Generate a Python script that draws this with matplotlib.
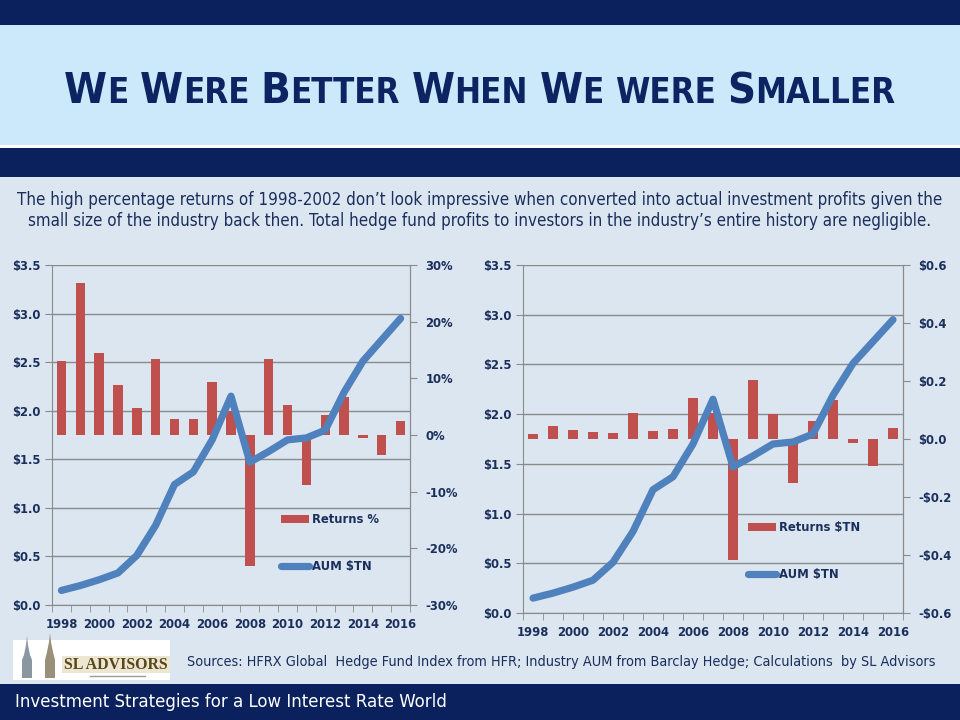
import numpy as np
import matplotlib
matplotlib.use("Agg")
import matplotlib.pyplot as plt
from matplotlib.patches import Rectangle, Polygon
from matplotlib.lines import Line2D
from matplotlib.ticker import FuncFormatter, MultipleLocator

# ---------------- data ----------------
years = list(range(1998, 2017))
year_labels = [str(y) if y % 2 == 0 else "" for y in years]
aum_tn = [0.15, 0.20, 0.26, 0.33, 0.51, 0.82, 1.24, 1.37, 1.70, 2.15,
          1.47, 1.58, 1.70, 1.72, 1.80, 2.19, 2.51, 2.73, 2.95]
returns_pct = [13.1, 26.8, 14.5, 8.8, 4.8, 13.4, 2.8, 2.8, 9.3, 4.2,
               -23.2, 13.4, 5.3, -8.8, 3.6, 6.7, -0.6, -3.5, 2.5]
returns_tn = [0.018, 0.046, 0.031, 0.024, 0.021, 0.091, 0.028, 0.034, 0.143, 0.090,
              -0.417, 0.203, 0.086, -0.151, 0.062, 0.134, -0.013, -0.093, 0.038]

TITLE = "We Were Better When We were Smaller"
SUB1 = ("The high percentage returns of 1998-2002 don\u2019t look impressive when converted "
        "into actual investment profits given the")
SUB2 = ("small size of the industry back then. Total hedge fund profits to investors in "
        "the industry\u2019s entire history are negligible.")
SOURCES = ("Sources: HFRX Global  Hedge Fund Index from HFR; Industry AUM from Barclay Hedge; "
           "Calculations  by SL Advisors")
FOOTER = "Investment Strategies for a Low Interest Rate World"

NAVY = "#0c2461"
DARK = "#0a215e"
TXT = "#1b2f5c"
BG = "#dce6f1"
LIGHT = "#cce9fb"
RED = "#c0504d"
BLUE = "#4f81bd"
GRID = "#8a8a8a"
COND = dict(family="DejaVu Sans", fontstretch="condensed")

W, H = 960, 720
fig = plt.figure(figsize=(W / 100, H / 100), dpi=100, facecolor=BG)
R = fig.canvas.get_renderer()


def fx(x):
    return x / W


def fy(y):
    return 1 - y / H


def band(y0, y1, color):
    fig.add_artist(Rectangle((0, fy(y1)), 1, (y1 - y0) / H, transform=fig.transFigure,
                             facecolor=color, edgecolor="none", zorder=0))


def fit_text(x, y, s, width_px, size0=12, **kw):
    t = fig.text(fx(x), fy(y), s, fontsize=size0, **kw)
    w = t.get_window_extent(renderer=R).width
    t.set_fontsize(size0 * width_px / w)
    return t


def small_caps(xc, ybase, s, width_px, color, size0=30, ratio=0.8):
    words = s.split(" ")
    pieces = []
    for wi, word in enumerate(words):
        runs = []
        for ch in word:
            big = not ch.islower()
            if runs and runs[-1][1] == big:
                runs[-1][0] += ch.upper()
            else:
                runs.append([ch.upper(), big])
        for r in runs:
            pieces.append((r[0], size0 if r[1] else size0 * ratio, wi))
    texts, widths = [], []
    for txt, sz, wi in pieces:
        t = fig.text(0, fy(ybase), txt, fontsize=sz, fontweight="bold", color=color,
                     va="baseline", ha="left", **COND)
        texts.append(t)
        widths.append(t.get_window_extent(renderer=R).width)
    gap = 0.26 * size0 * 100 / 72
    total = sum(widths) + gap * (len(words) - 1)
    k = width_px / total
    x = xc - width_px / 2
    prev_w = 0
    for t, w, (txt, sz, wi) in zip(texts, widths, pieces):
        if wi != prev_w:
            x += gap * k
            prev_w = wi
        t.set_fontsize(sz * k)
        t.set_x(fx(x))
        x += w * k


# ---------------- page furniture ----------------
band(0, 25, DARK)
band(25, 145, LIGHT)
band(145, 148, "#ffffff")
band(148, 177, DARK)
band(684, 720, DARK)

small_caps(480, 103, TITLE, 832, NAVY)
fit_text(480, 200, SUB1, 924, ha="center", va="center", color=TXT, **COND)
fit_text(480, 221, SUB2, 902, ha="center", va="center", color=TXT, **COND)
fit_text(187, 662, SOURCES, 748, ha="left", va="center", color=TXT, **COND)
fit_text(15, 702, FOOTER, 431, ha="left", va="center", color="white", **COND)

# logo
fig.add_artist(Rectangle((fx(13), fy(680)), 157 / W, 40 / H, transform=fig.transFigure,
                         facecolor="white", edgecolor="none"))
fig.add_artist(Rectangle((fx(62), fy(673)), 108 / W, 17 / H, transform=fig.transFigure,
                         facecolor="#ece6d2", edgecolor="none"))
tower1 = [(22, 678), (22, 660), (24, 655), (26, 645), (27, 636), (28, 645), (30, 655), (32, 660), (32, 678)]
tower2 = [(45, 678), (45, 660), (47, 652), (49, 642), (50, 633), (51, 642), (53, 652), (55, 660), (55, 678)]
for tw, c in ((tower1, "#8a96a0"), (tower2, "#9a8f78")):
    fig.add_artist(Polygon([(fx(a), fy(b)) for a, b in tw], closed=True,
                           transform=fig.transFigure, facecolor=c, edgecolor="none"))
fit_text(116, 665, "SL ADVISORS", 104, ha="center", va="center", color="#5a4718",
         family="Liberation Serif", fontweight="bold")
fig.add_artist(Line2D([fx(90), fx(145)], [fy(676), fy(676)], transform=fig.transFigure,
                      color="#9a9a9a", lw=1))


# ---------------- charts ----------------
def chart(x0, x1, y0, y1, bar_vals, bar_lim, bar_step, bar_fmt, bar_label, leg_x, leg_y):
    ax = fig.add_axes([fx(x0), fy(y1), (x1 - x0) / W, (y1 - y0) / H])
    ax.set_facecolor("none")
    x = np.arange(len(years))
    ax.set_xlim(-0.5, len(years) - 0.5)
    ax.set_ylim(0, 3.5)
    ax.yaxis.set_major_locator(MultipleLocator(0.5))
    ax.yaxis.set_major_formatter(FuncFormatter(lambda v, p: f"${v:.1f}"))
    ax.grid(axis="y", color=GRID, lw=1)
    ax.set_axisbelow(True)
    ax.set_xticks(x, year_labels)
    ax.set_xticks(np.arange(-0.5, len(years), 1), minor=True)
    ax.tick_params(axis="x", which="major", length=0, pad=9)
    ax.tick_params(axis="x", which="minor", length=5, color=GRID, direction="out")
    ax.tick_params(axis="y", length=5, color=GRID, pad=3)
    for side in ("left", "bottom", "right"):
        ax.spines[side].set_color(GRID)
    ax.spines["top"].set_visible(False)

    axb = ax.twinx()
    bars = axb.bar(x, bar_vals, width=0.5, color=RED, label=bar_label)
    axb.set_ylim(-bar_lim, bar_lim)
    axb.yaxis.set_major_locator(MultipleLocator(bar_step))
    axb.yaxis.set_major_formatter(FuncFormatter(bar_fmt))
    axb.tick_params(axis="y", length=5, color=GRID, pad=6)
    for side in ("left", "bottom", "top"):
        axb.spines[side].set_visible(False)
    axb.spines["right"].set_color(GRID)

    axl = ax.twinx()
    line, = axl.plot(x, aum_tn, color=BLUE, lw=5.2, solid_capstyle="round",
                     solid_joinstyle="round", label="AUM $TN")
    axl.set_ylim(0, 3.5)
    axl.yaxis.set_visible(False)
    for s in axl.spines.values():
        s.set_visible(False)

    for a in (ax, axb):
        for lab in a.get_xticklabels() + a.get_yticklabels():
            lab.set_fontweight("bold")
            lab.set_fontsize(8.4)
            lab.set_color(TXT)

    axl.legend(handles=[bars, line], labels=[bar_label, "AUM $TN"], loc="upper left",
               bbox_to_anchor=(fx(leg_x), fy(leg_y)), bbox_transform=fig.transFigure,
               frameon=False, prop={"weight": "bold", "size": 8.4}, labelcolor=TXT,
               labelspacing=2.95, handlelength=2.4, handletextpad=0.25,
               borderpad=0, borderaxespad=0)


def pct_fmt(v, p):
    return f"{int(round(v))}%"


def tn_fmt(v, p):
    v = round(v, 1)
    if abs(v) < 1e-9:
        return "$0.0"
    return f"-${abs(v):.1f}" if v < 0 else f"${v:.1f}"


chart(52, 410, 265, 605, returns_pct, 30, 10, pct_fmt, "Returns %", 281, 513)
chart(523, 903, 265, 613, returns_tn, 0.6, 0.2, tn_fmt, "Returns $TN", 748, 521)

fig.savefig("out.png", dpi=100, facecolor=BG)
